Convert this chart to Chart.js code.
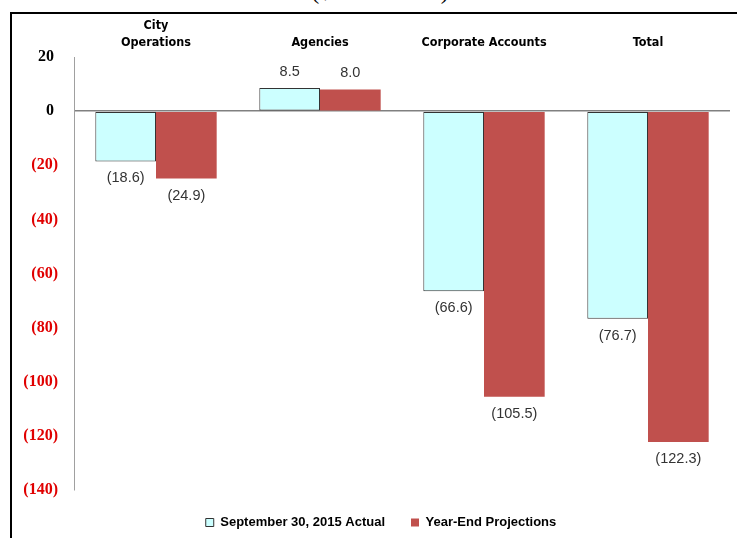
<!DOCTYPE html>
<html lang="en">
<head>
  <meta charset="UTF-8">
  <title>Variance by Area</title>
  <script src="https://cdn.jsdelivr.net/npm/chart.js"></script>
  <style>
    html, body {
      margin: 0;
      width: 737px;
      height: 538px;
      overflow: hidden;
      background: #fff;
    }
    #units {
      position: absolute;
      left: 0;
      top: -21px;
      width: 760px;
      text-align: center;
      font: 24px/24px "Liberation Serif", "Times New Roman", serif;
      color: #000;
    }
    #frame {
      position: absolute;
      left: 10px;
      top: 12px;
      width: 760px;
      height: 600px;
      border: 2px solid #000;
    }
    #frame canvas {
      position: absolute;
      left: 0;
      top: 0;
    }
  </style>
</head>
<body>
  <div id="units">($ in millions)</div>
  <div id="frame">
    <canvas id="varianceChart" width="738" height="525"></canvas>
  </div>

  <script>
    const categories = [['City', 'Operations'], 'Agencies', 'Corporate Accounts', 'Total'];
    const seriesNames = ['September 30, 2015 Actual', 'Year-End Projections'];
    const actualSep30 = [-18.6, 8.5, -66.6, -76.7];
    const yearEndProjections = [-24.9, 8.0, -105.5, -122.3];
    const yMin = -140;
    const yMax = 20;
    const yStep = 20;

    // negatives shown in parentheses, like the accounting format
    function money(v, digits) {
      const s = Math.abs(v).toFixed(digits);
      return v < 0 ? '(' + s + ')' : s;
    }

    // value printed under negative bars, above positive ones
    const valueLabels = {
      id: 'valueLabels',
      afterDatasetsDraw(chart) {
        const ctx = chart.ctx;
        ctx.save();
        ctx.font = '14.5px "Liberation Sans", Arial, sans-serif';
        ctx.fillStyle = '#333';
        ctx.textAlign = 'center';
        ctx.textBaseline = 'middle';
        chart.data.datasets.forEach((ds, i) => {
          chart.getDatasetMeta(i).data.forEach((bar, j) => {
            const v = ds.data[j];
            const y = v < 0 ? bar.y + 17 : bar.y - 16;
            ctx.fillText(money(v, 1), bar.x, y);
          });
        });
        ctx.restore();
      }
    };

    const ctx = document.getElementById('varianceChart').getContext('2d');
    new Chart(ctx, {
      type: 'bar',
      data: {
        labels: categories,
        datasets: [{
          label: seriesNames[0],
          data: actualSep30,
          backgroundColor: '#CCFFFF',
          borderColor: '#333',
          borderWidth: 1,
          borderSkipped: false
        }, {
          label: seriesNames[1],
          data: yearEndProjections,
          backgroundColor: '#C0504D',
          borderWidth: 0
        }]
      },
      options: {
        responsive: false,
        animation: false,
        categoryPercentage: 0.74,
        barPercentage: 1.0,
        layout: { padding: 0 },
        scales: {
          x: {
            position: 'top',
            grid: { display: false, drawTicks: false },
            border: { display: false },
            ticks: {
              padding: 6,
              color: '#000',
              font: { family: '"Liberation Sans Narrow", "DejaVu Sans Condensed", sans-serif', size: 12.5, weight: 'bold', lineHeight: 1.35 }
            },
            afterFit(scale) { scale.height = 43; }
          },
          y: {
            min: yMin,
            max: yMax,
            border: { display: true, color: '#A0A0A0', width: 1 },
            grid: {
              drawTicks: false,
              color: c => (c.tick && c.tick.value === 0 ? '#808080' : 'transparent'),
              lineWidth: 1.5
            },
            ticks: {
              stepSize: yStep,
              padding: 16,
              callback: v => (v < 0 ? money(v, 0) : v + ' '),
              color: c => (c.tick && c.tick.value < 0 ? '#E00000' : '#000'),
              font: { family: '"Liberation Serif", "Times New Roman", serif', size: 16, weight: 'bold' }
            },
            afterFit(scale) { scale.width = 62; }
          },
          // empty right-hand gutter so the legend centres on the whole frame
          gutter: {
            type: 'linear',
            position: 'right',
            grid: { display: false, drawTicks: false },
            border: { display: false },
            ticks: { display: false },
            afterFit(scale) { scale.width = 20; }
          }
        },
        plugins: {
          legend: {
            position: 'bottom',
            labels: {
              boxWidth: 8,
              boxHeight: 8,
              padding: 26,
              color: '#000',
              font: { family: '"Liberation Sans", Arial, sans-serif', size: 13, weight: 'bold' }
            }
          },
          tooltip: { enabled: false }
        }
      },
      plugins: [valueLabels]
    });
  </script>
</body>
</html>
